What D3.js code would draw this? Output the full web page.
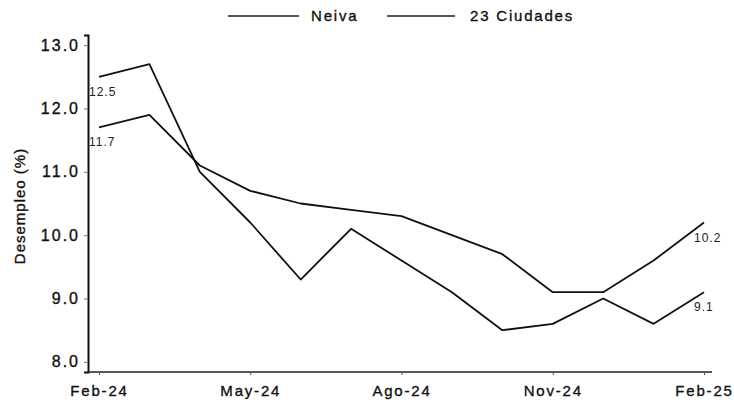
<!DOCTYPE html>
<html><head><meta charset="utf-8">
<script src="https://cdn.jsdelivr.net/npm/d3@7"></script>
<style>
html,body{margin:0;padding:0;background:#fff;}
text{font-family:"Liberation Sans",Arial,sans-serif;}
</style></head>
<body><svg id="c" width="734" height="402"></svg>
<script>
const months = ["Feb-24","Mar-24","Abr-24","May-24","Jun-24","Jul-24","Ago-24","Sep-24","Oct-24","Nov-24","Dic-24","Ene-25","Feb-25"];
const tickLabels = ["Feb-24","May-24","Ago-24","Nov-24","Feb-25"];
const neiva = [12.5,12.7,11.0,10.2,9.3,10.1,9.6,9.1,8.5,8.6,9.0,8.6,9.1];
const ciudades = [11.7,11.9,11.1,10.7,10.5,10.4,10.3,10.0,9.7,9.1,9.1,9.6,10.2];
const yTicks = [8,9,10,11,12,13];
const seriesNames = ["Neiva","23 Ciudades"];

const svg = d3.select("#c");
const x = d3.scalePoint().domain(months).range([99,704]);
const y = d3.scaleLinear().domain([7.84,13.16]).range([372,35]);

function ink(sel){ sel.attr("stroke","#111").attr("stroke-width",0.35).attr("paint-order","stroke"); }

// Y axis
const yAxis = svg.append("g").attr("transform","translate(88,0)")
  .call(d3.axisLeft(y).tickValues(yTicks).tickFormat(d3.format(".1f")).tickSize(4).tickPadding(4));
yAxis.select(".domain").attr("stroke","#111").attr("stroke-width",2);
yAxis.selectAll(".tick line").attr("stroke","#777");
yAxis.selectAll("text").attr("font-size",16).attr("letter-spacing","2px").attr("fill","#111")
  .style("font-family","Liberation Sans, Arial, sans-serif").call(ink);

// X axis
const xAxis = svg.append("g").attr("transform","translate(0,372)")
  .call(d3.axisBottom(x).tickValues(tickLabels).tickSize(3).tickPadding(10));
xAxis.select(".domain").attr("d","M88,0H712").attr("stroke","#222").attr("stroke-width",1.5);
xAxis.selectAll(".tick line").attr("stroke","#555");
xAxis.selectAll("text").attr("font-size",15).attr("letter-spacing","1.8px").attr("fill","#111")
  .style("font-family","Liberation Sans, Arial, sans-serif").call(ink);

// Y title
svg.append("text").attr("transform","translate(25,206) rotate(-90)")
  .attr("text-anchor","middle").attr("font-size",15).attr("letter-spacing","1px").attr("fill","#111")
  .text("Desempleo (%)").call(ink);

// Lines
const line = d3.line().x((d,i)=>x(months[i])).y(d=>y(d));
[neiva,ciudades].forEach(s=>{
  svg.append("path").datum(s).attr("d",line).attr("fill","none")
    .attr("stroke","#111").attr("stroke-width",1.8).attr("stroke-linejoin","round");
});

// Value labels at ends
[neiva,ciudades].forEach(s=>{
  [0,s.length-1].forEach(i=>{
    svg.append("text").attr("x",x(months[i])-10).attr("y",y(s[i])+19)
      .attr("font-size",12).attr("letter-spacing","1px").attr("fill","#222")
      .text(d3.format(".1f")(s[i]));
  });
});

// Legend
const leg = [{x1:228,x2:299,tx:311},{x1:387,x2:455,tx:470}];
leg.forEach((l,i)=>{
  svg.append("line").attr("x1",l.x1).attr("x2",l.x2).attr("y1",16).attr("y2",16)
    .attr("stroke","#222").attr("stroke-width",1.6);
  svg.append("text").attr("x",l.tx).attr("y",21).attr("font-size",15)
    .attr("letter-spacing","1.8px").attr("fill","#111").text(seriesNames[i]).call(ink);
});
</script></body></html>
